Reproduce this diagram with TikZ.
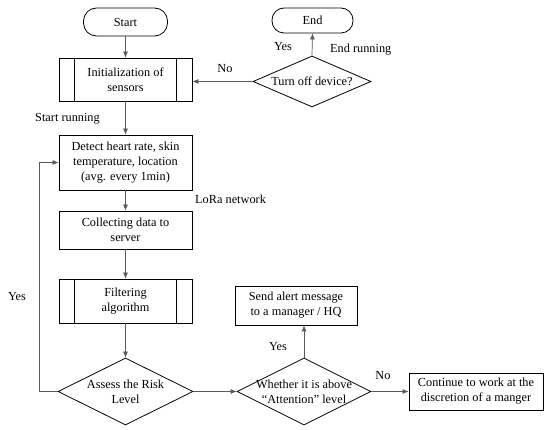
\documentclass[tikz,border=0pt]{standalone}
\usepackage{fontspec}
\setmainfont{Liberation Serif}
\usetikzlibrary{shapes.geometric,arrows.meta}
\begin{document}
\begin{tikzpicture}[x=1pt,y=-1pt,
  font=\fontsize{12.3}{15}\selectfont,
  box/.style={draw=black,line width=0.8pt,align=center,inner sep=0pt},
  term/.style={box,rounded corners=13pt},
  diam/.style={draw=black,line width=0.8pt,diamond,inner sep=0pt},
  conn/.style={draw=black!65,line width=0.7pt,-{Latex[length=6pt,width=5pt]}},
  lab/.style={inner sep=0pt}]
\useasboundingbox (0,0) rectangle (550,430);
\node[term,minimum width=84pt,minimum height=28pt] (start) at (125.5,22) {Start};
\node[box,minimum width=133pt,minimum height=43pt] (init) at (125.5,79.5) {Initialization of\\sensors};
\draw[line width=0.8pt] ([xshift=16pt]init.north west) -- ([xshift=16pt]init.south west);
\draw[line width=0.8pt] ([xshift=-16pt]init.north east) -- ([xshift=-16pt]init.south east);
\node[box,minimum width=133pt,minimum height=55pt] (detect) at (125.5,162.5) {Detect heart rate, skin\\temperature, location\\(avg. every 1min)};
\node[box,minimum width=133pt,minimum height=38pt] (collect) at (125.5,230) {Collecting data to\\server};
\node[box,minimum width=133pt,minimum height=44pt] (filter) at (125.5,301) {Filtering\\algorithm};
\draw[line width=0.8pt] ([xshift=16pt]filter.north west) -- ([xshift=16pt]filter.south west);
\draw[line width=0.8pt] ([xshift=-16pt]filter.north east) -- ([xshift=-16pt]filter.south east);
\node[diam,minimum width=135pt,minimum height=67pt] (assess) at (125.5,391.5) {};
\node[lab,align=center] (assesst) at (assess) {Assess the Risk\\Level};
\node[diam,minimum width=134pt,minimum height=67pt] (whether) at (304,391.5) {};
\node[lab,align=center] (whethert) at (whether) {Whether it is above\\``Attention'' level};
\node[box,minimum width=122pt,minimum height=39pt] (send) at (296,305.5) {Send alert message\\to a manager / HQ};
\node[box,minimum width=134pt,minimum height=37pt] (cont) at (476,391.5) {Continue to work at the\\discretion of a manger};
\node[term,minimum width=81pt,minimum height=25pt,rounded corners=12pt] (end) at (312.5,20.5) {End};
\node[diam,minimum width=118pt,minimum height=51pt] (turn) at (312,81.5) {};
\node[lab] (turnt) at (turn) {Turn off device?};
% connectors
\draw[conn] (start) -- (init);
\draw[conn] (init) -- (detect);
\draw[conn] (detect) -- (collect);
\draw[conn] (collect) -- (filter);
\draw[conn] (filter) -- (assess);
\draw[conn] (assess) -- (whether);
\draw[conn] (whether) -- (cont);
\draw[conn] (whether.north) -- (whether.north |- send.south);
\coordinate (loop) at (39,391.5);
\draw[conn] (assess.west) -- (loop) |- (detect.west);
\draw[conn] (turn.north) -- (end.south);
\draw[conn] (turn.west) -- (init.east |- turn.west);
% labels
\node[lab,anchor=west] (l1) at (35,119) {Start running};
\node[lab,anchor=west] (l2) at (195,199) {LoRa network};
\node[lab] (l3) at (17,297) {Yes};
\node[lab] (l4) at (225,69) {No};
\node[lab] (l5) at (283,47) {Yes};
\node[lab,anchor=west] (l6) at (330,50) {End running};
\node[lab] (l7) at (278,347) {Yes};
\node[lab] (l8) at (383,376) {No};
\end{tikzpicture}
\end{document}
